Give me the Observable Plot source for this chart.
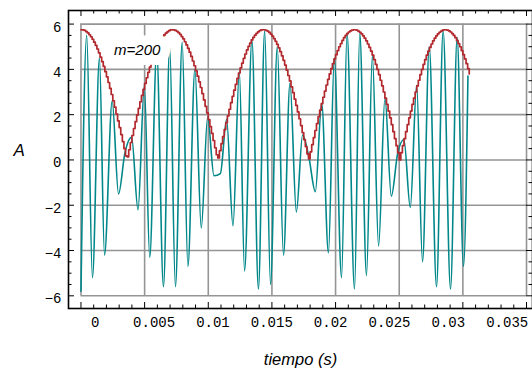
<!DOCTYPE html>
<html><head><meta charset="utf-8">
<script src="https://cdn.jsdelivr.net/npm/d3@7"></script>
<script src="https://cdn.jsdelivr.net/npm/@observablehq/plot@0.6"></script>
<style>
html,body{margin:0;padding:0;background:#fff;}
</style></head><body><div id="chart"></div>
<script>
// ---- data ----
// teal signal: turning points, time in ms and amplitude
const tealTimeMs = [0.00,0.45,0.90,1.45,1.85,2.45,2.95,3.45,3.98,4.48,4.98,5.40,5.95,6.48,6.97,7.42,7.95,8.40,8.95,9.45,9.95,10.45,10.95,11.44,11.94,12.44,12.85,13.43,13.94,14.43,14.89,15.42,15.91,16.42,16.92,17.41,17.91,18.41,18.91,19.44,19.90,20.47,20.90,21.49,21.90,22.43,22.89,23.38,23.88,24.38,24.88,25.37,25.87,26.37,26.83,27.36,27.93,28.45,29.03,29.55,30.05,30.40];
const tealValue  = [-5.8,5.5,-5.2,4.5,-4.2,2.6,-1.5,0.3,1.0,-2.2,3.3,-4.3,4.8,-5.6,5.0,-5.6,5.2,-4.7,4.0,-3.0,1.9,-0.7,-0.6,1.8,-2.9,3.9,-4.9,5.3,-5.7,5.7,-5.5,5.0,-4.2,3.4,-2.3,1.1,0.1,-1.4,2.5,-4.1,4.5,-5.2,5.6,-5.7,5.6,-5.1,4.6,-3.8,2.75,-1.6,0.3,0.9,-2.1,3.3,-4.5,5.0,-5.6,5.7,-5.7,5.4,-4.7,3.7];
// red envelope (m=200): held values, one every 0.125 ms from t = 0
const envStepMs = 0.125;
const envValue = [5.75,5.74,5.72,5.67,5.61,5.53,5.44,5.33,5.20,5.06,4.90,4.73,4.54,4.34,4.13,3.90,3.67,3.42,3.16,2.89,2.61,2.33,2.03,1.73,1.43,1.12,0.81,0.50,0.18,
0.14,0.45,0.77,1.08,1.39,1.69,1.99,2.28,2.57,2.85,3.12,3.38,3.63,3.87,4.10,4.31,4.52,4.70,4.88,5.04,5.18,5.31,5.43,5.52,5.60,5.66,5.71,5.74,5.75,5.74,5.72,5.68,5.62,5.55,5.45,5.35,5.22,5.08,4.93,4.76,4.57,4.37,4.16,3.94,3.70,3.45,3.20,2.93,2.65,2.37,2.08,1.78,1.47,1.17,0.86,0.54,0.23,
0.09,0.41,0.72,1.03,1.34,1.65,1.95,2.24,2.53,2.81,3.08,3.34,3.60,3.84,4.07,4.28,4.49,4.68,4.86,5.02,5.16,5.30,5.41,5.51,5.59,5.66,5.71,5.74,5.75,5.75,5.72,5.69,5.63,5.56,5.47,5.36,5.24,5.10,4.95,4.78,4.60,4.40,4.19,3.97,3.73,3.49,3.23,2.97,2.69,2.41,2.12,1.82,1.52,1.21,0.90,0.59,0.27,
0.05,0.36,0.68,0.99,1.30,1.60,1.91,2.20,2.49,2.77,3.04,3.31,3.56,3.80,4.03,4.25,4.46,4.65,4.83,5.00,5.14,5.28,5.40,5.50,5.58,5.65,5.70,5.73,5.75,5.75,5.73,5.69,5.64,5.57,5.48,5.38,5.26,5.12,4.97,4.81,4.63,4.43,4.22,4.00,3.77,3.52,3.27,3.00,2.73,2.45,2.16,1.86,1.56,1.25,0.94,0.63,0.32,
0.00,0.32,0.63,0.94,1.25,1.56,1.86,2.16,2.45,2.73,3.00,3.27,3.52,3.77,4.00,4.22,4.43,4.63,4.81,4.97,5.12,5.26,5.38,5.48,5.57,5.64,5.69,5.73,5.75,5.75,5.73,5.70,5.65,5.58,5.50,5.40,5.28,5.14,5.00,4.83,4.65,4.46,4.25,4.03,3.80];
// ticks and labels
const xTicks = [0,0.005,0.01,0.015,0.02,0.025,0.03,0.035];
const xTickLabels = ["0","0.005","0.01","0.015","0.02","0.025","0.03","0.035"];
const xMinor = [0.001,0.002,0.003,0.004,0.006,0.007,0.008,0.009,0.011,0.012,0.013,0.014,0.016,0.017,0.018,0.019,0.021,0.022,0.023,0.024,0.026,0.027,0.028,0.029,0.031,0.032,0.033,0.034];
const yTicks = [6,4,2,0,-2,-4,-6];
const yTickLabels = ["6","4","2","0","\u22122","\u22124","\u22126"];
const yMinor = [5.5,5,4.5,3.5,3,2.5,1.5,1,0.5,-0.5,-1,-1.5,-2.5,-3,-3.5,-4.5,-5,-5.5];
const annotation = [{t: 0.00442, v: 4.86, label: "m=200"}];
const xTitle = "tiempo (s)";
const yTitle = "A";

// ---- build tables ----
const teal = tealTimeMs.map((t, i) => ({t: t / 1000, v: tealValue[i]}));
const env = envValue.map((v, i) => ({t: i * envStepMs / 1000, v}));
const xLab = xTicks.map((v, i) => ({v, label: xTickLabels[i]}));
const yLab = yTicks.map((v, i) => ({v, label: yTickLabels[i]}));

// ---- layout / style ----
const W = 532, H = 371, mL = 68, mR = 0, mT = 10, mB = 63;
const plotW = W - mL - mR, plotH = H - mT - mB;
const gridColor = "#959595", tealColor = "#00878a", redColor = "#b3282d";
const mono = "'Liberation Mono', 'DejaVu Sans Mono', monospace";
const sans = "'Liberation Sans', Arial, sans-serif";
// labels of the x axis are spread a little narrower than the ticks in the original
const labelOffset = 0.00112, labelStretch = 0.9246;

const chart = Plot.plot({
  width: W, height: H,
  marginLeft: mL, marginRight: mR, marginTop: mT, marginBottom: mB,
  x: {domain: [-0.00098, 0.03547], axis: null},
  y: {domain: [-6.56, 6.6], axis: null},
  style: {background: "white", overflow: "visible"},
  marks: [
    Plot.ruleX(xTicks, {x: d => d, y1: yTicks[yTicks.length - 1], y2: yTicks[0], stroke: gridColor, strokeWidth: 1.6}),
    Plot.ruleY(yTicks, {y: d => d, x1: xTicks[0], x2: xTicks[xTicks.length - 1], stroke: gridColor, strokeWidth: 1.6}),
    Plot.line(teal, {x: "t", y: "v", curve: "monotone-x", stroke: tealColor, strokeWidth: 1.6}),
    Plot.line(env, {x: "t", y: "v", curve: "step-after", stroke: redColor, strokeWidth: 1.7}),
    Plot.text(annotation, {x: "t", y: "v", text: "label", fontFamily: sans, fontStyle: "italic", fontSize: 15,
      fill: "black", stroke: "white", strokeWidth: 20, strokeLinejoin: "round"}),
    Plot.frame({stroke: "black", strokeWidth: 1.6}),
    // inward ticks, all four sides
    Plot.tickX(xTicks, {x: d => d, insetTop: plotH - 6, stroke: "black"}),
    Plot.tickX(xTicks, {x: d => d, insetBottom: plotH - 6, stroke: "black"}),
    Plot.tickX(xMinor, {x: d => d, insetTop: plotH - 3.5, stroke: "black"}),
    Plot.tickX(xMinor, {x: d => d, insetBottom: plotH - 3.5, stroke: "black"}),
    Plot.tickY(yTicks, {y: d => d, insetRight: plotW - 6, stroke: "black"}),
    Plot.tickY(yTicks, {y: d => d, insetLeft: plotW - 6, stroke: "black"}),
    Plot.tickY(yMinor, {y: d => d, insetRight: plotW - 3.5, stroke: "black"}),
    Plot.tickY(yMinor, {y: d => d, insetLeft: plotW - 3.5, stroke: "black"}),
    // tick labels
    Plot.text(xLab, {x: d => labelOffset + labelStretch * d.v, text: "label", frameAnchor: "bottom", dy: 18,
      fontFamily: mono, fontSize: 14, fill: "black", ariaLabel: "xticklabel"}),
    Plot.text(yLab, {y: "v", text: "label", frameAnchor: "left", textAnchor: "end", dx: -7, dy: 3,
      fontFamily: mono, fontSize: 14, fill: "black", ariaLabel: "yticklabel"}),
    // axis titles
    Plot.text([xTitle], {text: d => d, frameAnchor: "bottom", dy: 56, fontFamily: sans, fontStyle: "italic", fontSize: 16.5, fill: "black"}),
    Plot.text([yTitle], {text: d => d, frameAnchor: "left", dx: -55, dy: -9, fontFamily: sans, fontStyle: "italic", fontSize: 17, fill: "black"})
  ]
});
d3.select(chart).selectAll('g[aria-label="xticklabel"] text, g[aria-label="yticklabel"] text').attr("letter-spacing", "1.4px");
document.getElementById("chart").appendChild(chart);
</script></body></html>
